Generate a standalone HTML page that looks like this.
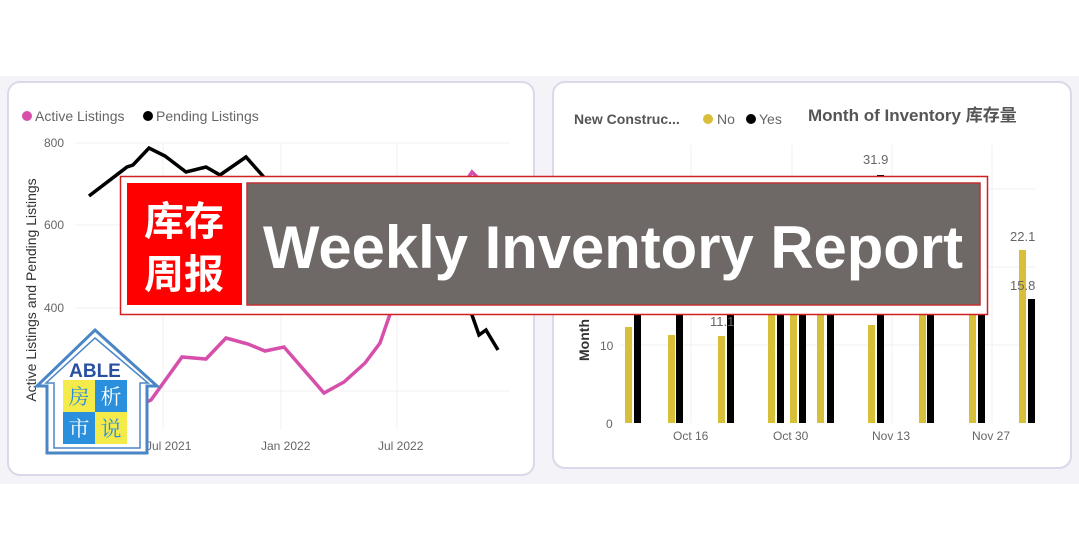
<!DOCTYPE html>
<html><head><meta charset="utf-8"><style>
html,body{margin:0;padding:0;width:1079px;height:545px;overflow:hidden;background:#fff;font-family:"Liberation Sans","Noto Sans CJK SC",sans-serif}
</style></head><body>
<svg width="1079" height="545" viewBox="0 0 1079 545" xmlns="http://www.w3.org/2000/svg" font-family="Liberation Sans, Noto Sans CJK SC, sans-serif">
<rect x="0" y="76" width="1079" height="408" fill="#f4f3f7"/>
<rect x="8" y="82" width="526" height="393" rx="12" fill="#fff" stroke="#dcd8ea" stroke-width="2"/>
<rect x="553" y="82" width="518" height="386" rx="12" fill="#fff" stroke="#dcd8ea" stroke-width="2"/>
<!-- left chart -->
<g stroke="#f0f0f0" stroke-width="1">
<line x1="75" y1="143" x2="510" y2="143"/><line x1="75" y1="225" x2="510" y2="225"/><line x1="75" y1="308" x2="510" y2="308"/><line x1="75" y1="391" x2="510" y2="391"/>
<line x1="163" y1="143" x2="163" y2="430"/><line x1="281" y1="143" x2="281" y2="430"/><line x1="397" y1="143" x2="397" y2="430"/>
</g>
<g font-size="12" fill="#666"><text x="44" y="147">800</text><text x="44" y="229">600</text><text x="44" y="312">400</text>
<text x="146" y="450">Jul 2021</text><text x="261" y="450">Jan 2022</text><text x="378" y="450">Jul 2022</text></g>
<text transform="translate(36,290) rotate(-90)" text-anchor="middle" font-size="14" fill="#333">Active Listings and Pending Listings</text>
<circle cx="27" cy="116" r="5" fill="#d64fab"/><text x="35" y="121" font-size="14" fill="#666">Active Listings</text>
<circle cx="148" cy="116" r="5" fill="#000"/><text x="156" y="121" font-size="14" fill="#666">Pending Listings</text>
<polyline fill="none" stroke="#000" stroke-width="3.5" points="89,196 127,167 133,165 149,148 165,156 186,172 206,167 220,175 246,157 262,175 275,190"/>
<polyline fill="none" stroke="#000" stroke-width="3.5" points="465,300 472,315 479,335 486,330 498,350"/>
<polyline fill="none" stroke="#d64fab" stroke-width="3.5" points="140,405 151,400 182,357 206,359 226,338 248,344 265,351 284,347 324,393 344,382 365,363 380,343 389,317 395,300"/>
<polyline fill="none" stroke="#d64fab" stroke-width="3.5" points="460,190 472,172 480,180"/>
<!-- right chart -->
<g stroke="#f0f0f0" stroke-width="1">
<line x1="620" y1="345" x2="1035" y2="345"/><line x1="620" y1="267" x2="1035" y2="267"/><line x1="620" y1="189" x2="1035" y2="189"/>
<line x1="691" y1="145" x2="691" y2="423"/><line x1="792" y1="145" x2="792" y2="423"/><line x1="892" y1="145" x2="892" y2="423"/><line x1="992" y1="145" x2="992" y2="423"/>
</g>
<g fill="#d8bf3a">
<rect x="625" y="327" width="7" height="96"/><rect x="668" y="335" width="7" height="88"/><rect x="718" y="336" width="7" height="87"/>
<rect x="768" y="300" width="7" height="123"/><rect x="790" y="300" width="7" height="123"/><rect x="817" y="300" width="7" height="123"/>
<rect x="868" y="325" width="7" height="98"/><rect x="919" y="300" width="7" height="123"/><rect x="969" y="300" width="7" height="123"/>
<rect x="1019" y="250" width="7" height="173"/></g>
<g fill="#000">
<rect x="634" y="300" width="7" height="123"/><rect x="676" y="300" width="7" height="123"/><rect x="727" y="300" width="7" height="123"/>
<rect x="777" y="300" width="7" height="123"/><rect x="799" y="300" width="7" height="123"/><rect x="827" y="300" width="7" height="123"/>
<rect x="877" y="175" width="7" height="248"/><rect x="927" y="300" width="7" height="123"/><rect x="978" y="300" width="7" height="123"/>
<rect x="1028" y="299" width="7" height="124"/></g>
<g font-size="12" fill="#666"><text x="606" y="428">0</text><text x="600" y="350">10</text>
<text x="673" y="440">Oct 16</text><text x="773" y="440">Oct 30</text><text x="872" y="440">Nov 13</text><text x="972" y="440">Nov 27</text>
<text x="863" y="164" font-size="13">31.9</text><text x="1010" y="241" font-size="13">22.1</text><text x="1010" y="290" font-size="13">15.8</text><text x="710" y="326" font-size="13">11.1</text></g>
<text transform="translate(589,340) rotate(-90)" text-anchor="middle" font-size="14" font-weight="bold" fill="#333">Month</text>
<text x="574" y="124" font-size="14" font-weight="bold" fill="#555">New Construc...</text>
<circle cx="708" cy="119" r="5" fill="#d8bf3a"/><text x="717" y="124" font-size="14" fill="#666">No</text>
<circle cx="751" cy="119" r="5" fill="#000"/><text x="759" y="124" font-size="14" fill="#666">Yes</text>
<text x="808" y="121" font-size="17" font-weight="bold" fill="#555">Month of Inventory 库存量</text>
<!-- banner -->
<rect x="120.5" y="176.5" width="867" height="138" fill="#fff" stroke="#d02020" stroke-width="1.5"/>
<rect x="127" y="183" width="115" height="122" fill="#f00"/>
<rect x="247" y="183" width="733" height="122" fill="#6e6867" stroke="#c03030" stroke-width="1.5"/>
<text x="184" y="235" text-anchor="middle" font-size="40" font-weight="bold" fill="#fff" font-family="Noto Sans CJK SC, sans-serif">库存</text>
<text x="184" y="288" text-anchor="middle" font-size="40" font-weight="bold" fill="#fff" font-family="Noto Sans CJK SC, sans-serif">周报</text>
<text x="613" y="268" text-anchor="middle" font-size="60" font-weight="bold" fill="#fff" font-family="Liberation Sans, sans-serif" textLength="700" lengthAdjust="spacingAndGlyphs">Weekly Inventory Report</text>
<!-- logo -->
<polygon points="95,330 157,386 147,386 147,453 47,453 47,386 37,386" fill="#fff" stroke="#4a86c6" stroke-width="3"/>
<polygon points="95,338 148,383 140,383 140,448 54,448 54,383 46,383" fill="none" stroke="#4a86c6" stroke-width="1.5"/>
<text x="95" y="377" text-anchor="middle" font-size="19" font-weight="bold" fill="#2850a0">ABLE</text>
<rect x="63" y="380" width="32" height="32" fill="#f4ea4a"/><rect x="95" y="380" width="32" height="32" fill="#2a8fdc"/>
<rect x="63" y="412" width="32" height="32" fill="#2a8fdc"/><rect x="95" y="412" width="32" height="32" fill="#f4ea4a"/>
<g font-size="21" text-anchor="middle" font-family="Noto Serif CJK SC, serif">
<text x="79" y="404" fill="#2a8fdc">房</text><text x="111" y="404" fill="#fff">析</text>
<text x="79" y="436" fill="#fff">市</text><text x="111" y="436" fill="#2a8fdc">说</text></g>
</svg>
</body></html>
